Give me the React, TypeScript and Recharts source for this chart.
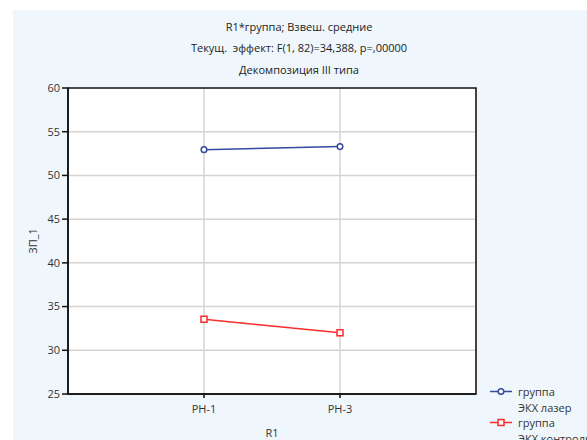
import React from 'react';
import { LineChart, Line, XAxis, YAxis, CartesianGrid, ReferenceArea } from 'recharts';

const categories = ['PH-1', 'PH-3'];
const laser = [52.95, 53.3];
const control = [33.55, 32.0];
const yTicks = [25, 30, 35, 40, 45, 50, 55, 60];
const gridValues = [30, 35, 40, 45, 50, 55];
const titleLines = [
  'R1*группа; Взвеш. средние',
  'Текущ.  эффект: F(1, 82)=34,388, p=,00000',
  'Декомпозиция III типа',
];
const legendLaser = ['группа', 'ЭКХ лазер'];
const legendControl = ['группа', 'ЭКХ контроль'];

const BLUE = '#34499f';
const RED = '#ff2a2a';
const FONT = '"Open Sans", "Noto Sans", sans-serif';

const data = categories.map((c, i) => ({ x: i + 1, label: c, laser: laser[i], control: control[i] }));

const SquareDot = (props: any) => {
  const { cx, cy } = props;
  if (cx == null || cy == null) return null;
  return <rect x={cx - 3} y={cy - 3} width={6} height={6} fill="#fff" stroke={RED} strokeWidth={1.5} />;
};

const LegendItem = ({ color, square, lines }: { color: string; square?: boolean; lines: string[] }) => (
  <div style={{ display: 'flex', alignItems: 'flex-start' }}>
    <svg width={28} height={15} style={{ flex: 'none' }}>
      <line x1={0} y1={7.5} x2={22} y2={7.5} stroke={color} strokeWidth={1.5} />
      {square ? (
        <rect x={8} y={4.5} width={6} height={6} fill="#fff" stroke={color} strokeWidth={1.5} />
      ) : (
        <circle cx={11} cy={7.5} r={2.8} fill="#fff" stroke={color} strokeWidth={1.5} />
      )}
    </svg>
    <div>
      {lines.map((l, i) => (
        <div key={i}>{l}</div>
      ))}
    </div>
  </div>
);

export default function App() {
  return (
    <div
      style={{
        position: 'absolute',
        left: 0,
        top: 0,
        width: 587,
        height: 440,
        overflow: 'hidden',
        background: '#fff',
        fontFamily: FONT,
        fontSize: 11,
        color: '#333',
      }}
    >
      <div style={{ position: 'absolute', left: 13, top: 10, right: 0, bottom: 0, background: '#eff7fd' }} />
      {titleLines.map((t, i) => (
        <div
          key={i}
          style={{
            position: 'absolute',
            left: 0,
            width: 598,
            top: [27, 48, 70][i] - 8,
            lineHeight: '16px',
            textAlign: 'center',
            whiteSpace: 'pre',
            color: '#222',
          }}
        >
          {t}
        </div>
      ))}
      <div style={{ position: 'absolute', left: 0, top: 0 }}>
        <LineChart
          width={587}
          height={440}
          data={data}
          margin={{ top: 88, right: 111, bottom: 0, left: 0 }}
          style={{ fontFamily: FONT }}
        >
          <CartesianGrid fill="#fff" stroke="#d4d4d4" strokeWidth={1.5} horizontalValues={gridValues} />
          <XAxis
            dataKey="x"
            type="number"
            domain={[0, 3]}
            ticks={[1, 2]}
            tickFormatter={(v: number) => categories[v - 1] ?? ''}
            height={46}
            tickSize={4}
            tickMargin={7}
            stroke="#111"
            strokeWidth={1.5}
            tick={{ fill: '#333', fontSize: 11 }}
            label={{ value: 'R1', position: 'insideBottom', offset: 3, fill: '#333', fontSize: 11 }}
          />
          <YAxis
            type="number"
            domain={[25, 60]}
            ticks={yTicks}
            width={68}
            tickSize={6}
            tickMargin={2}
            stroke="#111"
            strokeWidth={1.5}
            tick={{ fill: '#333', fontSize: 11 }}
            label={{ value: 'ЗП_1', angle: -90, position: 'insideLeft', offset: 33, fill: '#333', fontSize: 11, style: { textAnchor: 'middle' } }}
          />
          <ReferenceArea x1={0} x2={3} y1={25} y2={60} fill="none" stroke="#111" strokeWidth={1.5} ifOverflow="visible" />
          <Line
            dataKey="laser"
            stroke={BLUE}
            strokeWidth={1.5}
            dot={{ r: 2.8, fill: '#fff', stroke: BLUE, strokeWidth: 1.5 }}
            isAnimationActive={false}
          />
          <Line
            dataKey="control"
            stroke={RED}
            strokeWidth={1.5}
            dot={<SquareDot />}
            isAnimationActive={false}
          />
        </LineChart>
      </div>
      <div style={{ position: 'absolute', left: 490, top: 384, lineHeight: '15.5px', whiteSpace: 'nowrap', color: '#333' }}>
        <LegendItem color={BLUE} lines={legendLaser} />
        <LegendItem color={RED} square lines={legendControl} />
      </div>
    </div>
  );
}
